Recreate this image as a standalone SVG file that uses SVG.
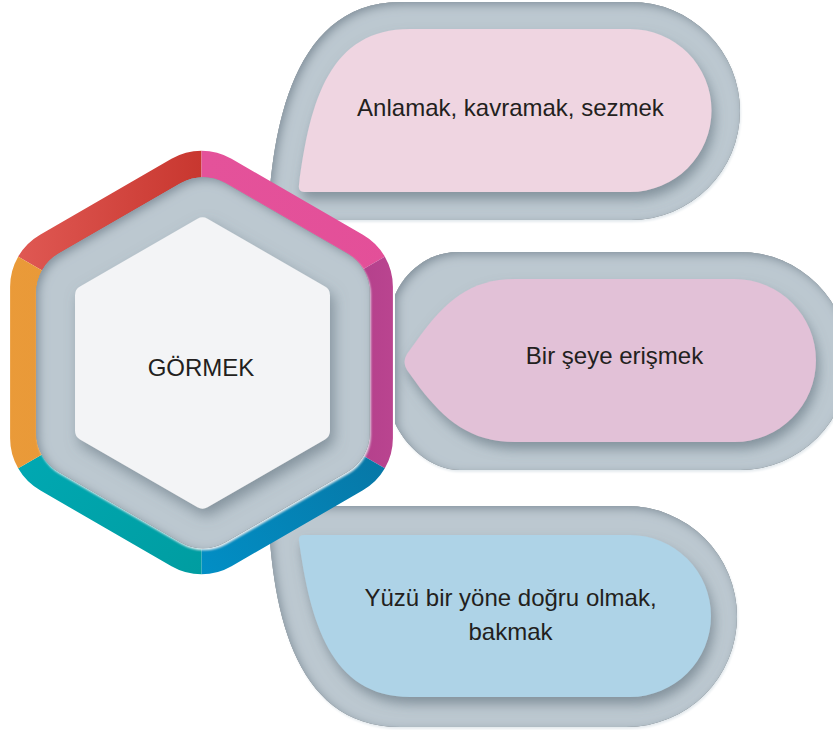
<svg xmlns="http://www.w3.org/2000/svg" width="833" height="730" viewBox="0 0 833 730">
<style>
.lbl{font-family:"Liberation Sans",Arial,Helvetica,sans-serif;font-size:24px;fill:#231F20;text-anchor:middle}
.frame{fill:#BCC8D0}
</style>
<defs>
<filter id="inset" x="-10%" y="-10%" width="120%" height="120%">
<feFlood flood-color="#81909B" result="f"/>
<feComposite in="f" in2="SourceAlpha" operator="out" result="o"/>
<feGaussianBlur in="o" stdDeviation="5" result="b"/>
<feOffset in="b" dx="3" dy="3" result="bo"/>
<feComposite in="bo" in2="SourceAlpha" operator="in" result="s"/>
<feDropShadow dx="1" dy="2" stdDeviation="0.8" flood-color="#E4EAEE" flood-opacity="1" in="SourceAlpha" result="rim"/>
<feMerge><feMergeNode in="rim"/><feMergeNode in="SourceGraphic"/><feMergeNode in="s"/></feMerge>
</filter>
<filter id="drop" x="-10%" y="-10%" width="125%" height="130%">
<feDropShadow dx="3" dy="7" stdDeviation="6" flood-color="#5E6E7A" flood-opacity="0.6"/>
</filter>
<filter id="dropw" x="-10%" y="-10%" width="125%" height="130%">
<feDropShadow dx="4" dy="7" stdDeviation="7" flood-color="#5E6E7A" flood-opacity="0.6"/>
</filter>
<linearGradient id="gRed" x1="0" y1="0" x2="1" y2="0"><stop offset="0" stop-color="#E96662"/><stop offset="1" stop-color="#C8372F"/></linearGradient>
<linearGradient id="gPink" x1="0" y1="0" x2="1" y2="0"><stop offset="0" stop-color="#E4529A"/><stop offset="1" stop-color="#E34E98"/></linearGradient>
<linearGradient id="gPurple" x1="0" y1="0" x2="1" y2="0"><stop offset="0" stop-color="#9C2E78"/><stop offset="1" stop-color="#C44C98"/></linearGradient>
<linearGradient id="gBlue" x1="1" y1="0" x2="0" y2="1"><stop offset="0" stop-color="#0A6A94"/><stop offset="1" stop-color="#0095CE"/></linearGradient>
<linearGradient id="gTeal" x1="0" y1="0" x2="1" y2="1"><stop offset="0" stop-color="#00AEBC"/><stop offset="1" stop-color="#009A9C"/></linearGradient>
<linearGradient id="gOrange" x1="0" y1="0" x2="1" y2="0"><stop offset="0" stop-color="#EB9C3A"/><stop offset="1" stop-color="#E69535"/></linearGradient>
<clipPath id="hexClip"><path d="M171.5,158.82 A60,60 0 0 1 231.5,158.82 L362.9,234.68 A60,60 0 0 1 392.9,286.64 L392.9,438.36 A60,60 0 0 1 362.9,490.32 L231.5,566.18 A60,60 0 0 1 171.5,566.18 L40.1,490.32 A60,60 0 0 1 10.1,438.36 L10.1,286.64 A60,60 0 0 1 40.1,234.68 Z"/></clipPath>
</defs>

<g id="connectors"/>

<g id="callout1">
<path class="frame" filter="url(#inset)" d="M268,222 C271,150 285,2 400,2 L631,2 A109,109 0 0 1 631,220 L268,220 Z"/>
<path filter="url(#drop)" fill="#EFD5E1" d="M304,192 Q298,192 299,185 C310,100 330,29 410,29 L630,29 A81.5,81.5 0 0 1 630,192 Z"/>
<text class="lbl" x="510.5" y="116">Anlamak, kavramak, sezmek</text>
</g>

<g id="callout2">
<path class="frame" filter="url(#inset)" d="M458,252 L740,252 A109,109 0 0 1 740,470 L460,470 C430,470 405,445 395,423 L395,295 C405,272 428,252 458,252 Z"/>
<path filter="url(#drop)" fill="#E2C1D7" d="M515,279 L734.5,279 A81.5,81.5 0 0 1 734.5,442 L515,442 C470,442 445,420 420,388 L407,370 Q402,362 407,354 L420,336 C445,302 470,279 515,279 Z"/>
<text class="lbl" x="614.5" y="364">Bir şeye erişmek</text>
</g>

<g id="callout3">
<path class="frame" filter="url(#inset)" d="M268,504 C271,600 290,727 400,727 L626.5,727 A110.5,110.5 0 0 0 626.5,506 L268,506 Z"/>
<path filter="url(#drop)" fill="#AED3E7" d="M304,535 Q298,535 299,541 C310,620 330,697 410,697 L630,697 A81,81 0 0 0 630,535 Z"/>
<text class="lbl" x="510.5" y="606">Yüzü bir yöne doğru olmak,</text>
<text class="lbl" x="510.5" y="640">bakmak</text>
</g>

<g id="gormek">
<g clip-path="url(#hexClip)">
<polygon fill="url(#gRed)" points="201.5,362.5 -58.3,212.5 201.5,62.5"/>
<polygon fill="url(#gPink)" points="201.5,362.5 201.5,62.5 461.3,212.5"/>
<polygon fill="url(#gPurple)" points="201.5,362.5 461.3,212.5 461.3,512.5"/>
<polygon fill="url(#gBlue)" points="201.5,362.5 461.3,512.5 201.5,662.5"/>
<polygon fill="url(#gTeal)" points="201.5,362.5 201.5,662.5 -58.3,512.5"/>
<polygon fill="url(#gOrange)" points="201.5,362.5 -58.3,512.5 -58.3,212.5"/>
</g>
<path class="frame" filter="url(#inset)" d="M180.5,183.29 A45,45 0 0 1 225.5,183.29 L347.21,253.56 A45,45 0 0 1 369.71,292.53 L369.71,433.07 A45,45 0 0 1 347.21,472.04 L225.5,542.31 A45,45 0 0 1 180.5,542.31 L58.79,472.04 A45,45 0 0 1 36.29,433.07 L36.29,292.53 A45,45 0 0 1 58.79,253.56 Z"/>
<path filter="url(#dropw)" fill="#F3F4F6" d="M197.5,218.69 A10,10 0 0 1 207.5,218.69 L324.98,286.51 A10,10 0 0 1 329.98,295.17 L329.98,430.83 A10,10 0 0 1 324.98,439.49 L207.5,507.31 A10,10 0 0 1 197.5,507.31 L80.02,439.49 A10,10 0 0 1 75.02,430.83 L75.02,295.17 A10,10 0 0 1 80.02,286.51 Z"/>
<text class="lbl" x="201" y="376">GÖRMEK</text>
</g>
</svg>
